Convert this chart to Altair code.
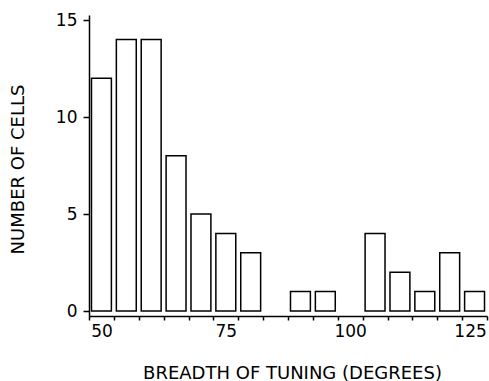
import altair as alt
import pandas as pd

# Data
centers = [50, 55, 60, 65, 70, 75, 80, 90, 95, 105, 110, 115, 120, 125]
counts = [12, 14, 14, 8, 5, 4, 3, 1, 1, 4, 2, 1, 3, 1]
x_label_values = [50, 75, 100, 125]
x_tick_values = [47.5, 52.5, 57.5, 62.5, 67.5, 72.5, 77.5, 82.5, 87.5, 92.5,
                 97.5, 102.5, 107.5, 112.5, 117.5, 122.5, 127.5]
y_tick_values = [0, 5, 10, 15]

df = pd.DataFrame({"center": centers, "count": counts})

FONT = "DejaVu Sans"
W, H = 398, 301

xscale = alt.Scale(domain=[47.5, 127.5], nice=False, zero=False)
yscale = alt.Scale(domain=[0, 15], nice=False, zero=True)

base = alt.Chart(df).transform_calculate(
    lo="datum.center - 2", hi="datum.center + 2", zero="0"
)

bars = base.mark_bar(fill="white", stroke="black", strokeWidth=1.5).encode(
    x=alt.X("lo:Q", scale=xscale,
            axis=alt.Axis(orient="bottom", values=x_label_values, ticks=False,
                          labelPadding=7, labelFontSize=17, labelFont=FONT,
                          labelOffset={"condition": {"test": "datum.value >= 125",
                                                     "value": -4.5},
                                       "value": 0},
                          labelColor="black", domainColor="black", domainWidth=1.5,
                          grid=False, title="BREADTH OF TUNING (DEGREES)",
                          titleFont=FONT, titleFontSize=18, titleFontWeight="normal",
                          titleColor="black", titleX=203, titleY=57,
                          titleBaseline="middle", titleAlign="center")),
    x2="hi:Q",
    y=alt.Y("count:Q", scale=yscale, stack=None,
            axis=alt.Axis(orient="left", values=y_tick_values, tickSize=6,
                          tickColor="black", tickWidth=1.5, labelPadding=6,
                          labelFontSize=17, labelFont=FONT, labelColor="black",
                          domainColor="black", domainWidth=1.5, grid=False,
                          title="NUMBER OF CELLS", titleFont=FONT, titleFontSize=18,
                          titleFontWeight="normal", titleColor="black",
                          titleAngle=-90, titleX=-71, titleY=154,
                          titleAlign="center", titleBaseline="middle")),
    y2=alt.Y2("zero:Q"),
)

ticks_layer = base.mark_bar(opacity=0).encode(
    x=alt.X("lo:Q", scale=xscale,
            axis=alt.Axis(orient="bottom", values=x_tick_values, labels=False,
                          ticks=True, tickSize=4, tickColor="black", tickWidth=1.5,
                          domain=False, grid=False, title=None)),
    x2="hi:Q",
    y=alt.Y("count:Q", scale=yscale, stack=None, axis=None),
)

chart = alt.layer(bars, ticks_layer).resolve_axis(
    x="independent", y="independent"
).properties(
    width=W, height=H,
    autosize=alt.AutoSizeParams(type="none"),
    padding={"left": 89, "top": 15, "right": 2, "bottom": 65},
).configure_view(stroke=None)

chart.save("out.html", embed_options={"renderer": "svg", "actions": False})
